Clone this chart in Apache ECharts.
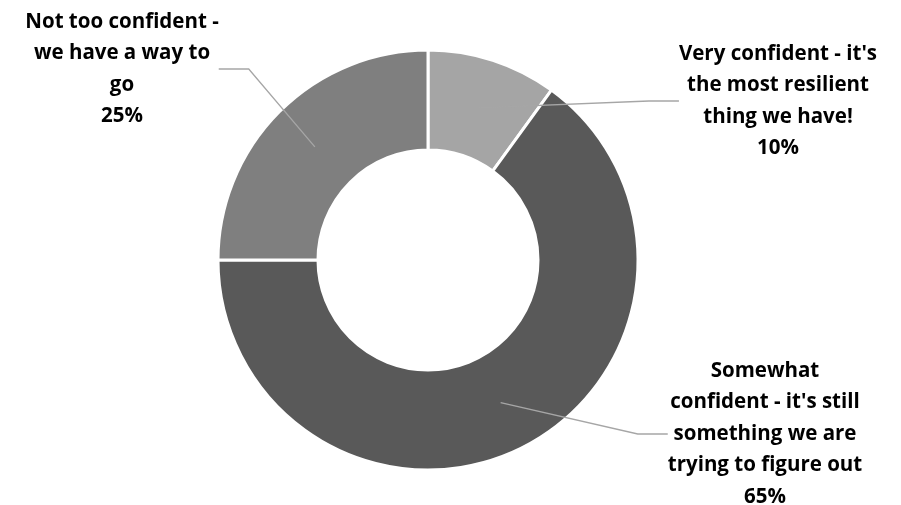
<!DOCTYPE html>
<html><head><meta charset="utf-8">
<script src="https://cdn.jsdelivr.net/npm/echarts@6/dist/echarts.min.js"></script>
<style>html,body{margin:0;padding:0;background:#fff}#c{width:901px;height:505px}</style>
</head><body><div id="c"></div>
<script>
const categories = [
  "Very confident - it's\nthe most resilient\nthing we have!",
  "Somewhat\nconfident - it's still\nsomething we are\ntrying to figure out",
  "Not too confident -\nwe have a way to\ngo"
];
const values = [10, 65, 25];
const colors = ['#a5a5a5', '#595959', '#7f7f7f'];
const labelPos = [[778, 101], [765, 434], [122, 69]];

const chart = echarts.init(document.getElementById('c'));
const data = categories.map((n, i) => ({name: n, value: values[i], itemStyle: {color: colors[i]}}));
chart.setOption({
  animation: false,
  series: [{
    type: 'pie',
    z: 1,
    center: [428, 260],
    radius: [110, 210],
    startAngle: 90,
    clockwise: true,
    data: data,
    itemStyle: {borderColor: '#fff', borderWidth: 3},
    label: {show: false},
    labelLine: {show: false}
  }, {
    type: 'pie',
    z: 10,
    silent: true,
    center: [428, 260],
    radius: [110, 160],
    startAngle: 90,
    clockwise: true,
    data: data.map(d => ({name: d.name, value: d.value})),
    itemStyle: {color: 'rgba(0,0,0,0)', borderWidth: 0},
    label: {
      show: true,
      formatter: '{b}\n{d}%',
      fontFamily: 'Open Sans',
      fontWeight: 'bold',
      fontSize: 20.5,
      lineHeight: 31.5,
      color: '#000',
      align: 'center'
    },
    labelLine: {show: true, lineStyle: {color: '#a6a6a6', width: 1.3}},
    labelLayout: function (p) {
      const pos = labelPos[p.dataIndex];
      return {x: pos[0], y: pos[1], align: 'center', verticalAlign: 'middle'};
    }
  }]
});
</script></body></html>
